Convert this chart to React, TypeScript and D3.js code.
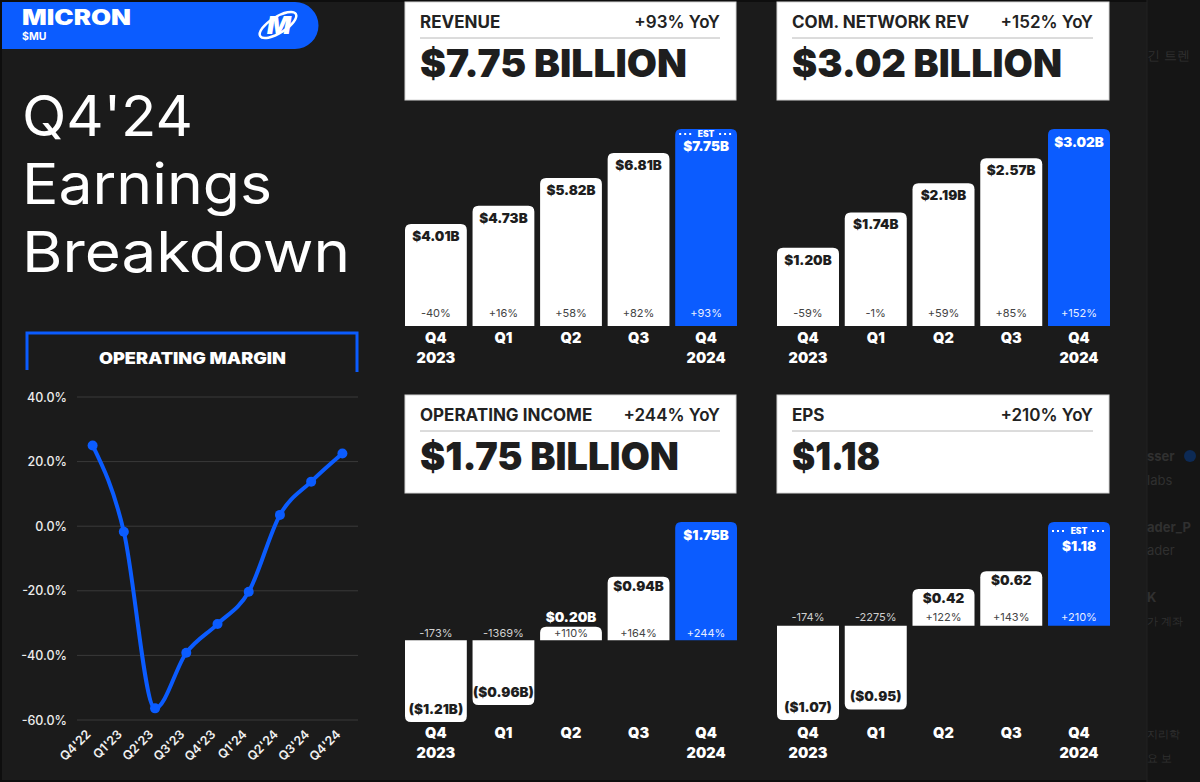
import React from 'react';
import * as d3 from 'd3';

// ---------- DATA ----------
const quarterLabels = ['Q4', 'Q1', 'Q2', 'Q3', 'Q4'];
const yearLabels = ['2023', '', '', '', '2024'];

const revenueValues = [4.01, 4.73, 5.82, 6.81, 7.75];
const revenueLabels = ['$4.01B', '$4.73B', '$5.82B', '$6.81B', '$7.75B'];
const revenueYoY = ['-40%', '+16%', '+58%', '+82%', '+93%'];

const networkValues = [1.2, 1.74, 2.19, 2.57, 3.02];
const networkLabels = ['$1.20B', '$1.74B', '$2.19B', '$2.57B', '$3.02B'];
const networkYoY = ['-59%', '-1%', '+59%', '+85%', '+152%'];

const opIncomeValues = [-1.21, -0.96, 0.2, 0.94, 1.75];
const opIncomeLabels = ['($1.21B)', '($0.96B)', '$0.20B', '$0.94B', '$1.75B'];
const opIncomeYoY = ['-173%', '-1369%', '+110%', '+164%', '+244%'];

const epsValues = [-1.07, -0.95, 0.42, 0.62, 1.18];
const epsLabels = ['($1.07)', '($0.95)', '$0.42', '$0.62', '$1.18'];
const epsYoY = ['-174%', '-2275%', '+122%', '+143%', '+210%'];

const marginQuarters = ["Q4'22", "Q1'23", "Q2'23", "Q3'23", "Q4'23", "Q1'24", "Q2'24", "Q3'24", "Q4'24"];
const marginValues = [25.0, -1.7, -56.4, -39.2, -30.3, -20.3, 3.5, 13.8, 22.5];
const marginTicks = [40, 20, 0, -20, -40, -60];

// ---------- STYLE ----------
const BLUE = '#0b5cff';
const BG = '#1b1b1b';
const FONT = "Inter, 'DejaVu Sans', sans-serif";

type Panel = {
  title: string; yoy: string; headline: string; headlineW: number;
  values: number[]; labels: string[]; pct: string[]; est: boolean;
  x0: number; x1: number; boxY: number; domain: [number, number]; range: [number, number];
  catY: number; pctOff: number; valOff: number; estOff: number; estValOff: number;
};

const panels: Panel[] = [
  { title: 'REVENUE', yoy: '+93% YoY', headline: '$7.75 BILLION', headlineW: 267,
    values: revenueValues, labels: revenueLabels, pct: revenueYoY, est: true,
    x0: 405, x1: 737, boxY: 2, domain: [0, 7.75], range: [326, 129],
    catY: 343, pctOff: 9, valOff: 17, estOff: 8, estValOff: 22 },
  { title: 'COM. NETWORK REV', yoy: '+152% YoY', headline: '$3.02 BILLION', headlineW: 270,
    values: networkValues, labels: networkLabels, pct: networkYoY, est: false,
    x0: 777, x1: 1110, boxY: 2, domain: [0, 3.02], range: [326, 129],
    catY: 343, pctOff: 9, valOff: 17, estOff: 8, estValOff: 22 },
  { title: 'OPERATING INCOME', yoy: '+244% YoY', headline: '$1.75 BILLION', headlineW: 259,
    values: opIncomeValues, labels: opIncomeLabels, pct: opIncomeYoY, est: false,
    x0: 405, x1: 737, boxY: 395, domain: [-1.21, 1.75], range: [722, 522],
    catY: 738, pctOff: 3, valOff: 14, estOff: 8, estValOff: 22 },
  { title: 'EPS', yoy: '+210% YoY', headline: '$1.18', headlineW: 88,
    values: epsValues, labels: epsLabels, pct: epsYoY, est: true,
    x0: 777, x1: 1110, boxY: 395, domain: [-1.07, 1.18], range: [720, 522],
    catY: 738, pctOff: 5, valOff: 14, estOff: 12, estValOff: 29 },
];

function barPath(x: number, w: number, y0: number, y1: number, rr: number) {
  const h = Math.abs(y1 - y0);
  const r = Math.min(rr, h, w / 2);
  const s = y1 < y0 ? 1 : -1;
  return `M${x},${y0} L${x},${y1 + s * r} Q${x},${y1} ${x + r},${y1} L${x + w - r},${y1} Q${x + w},${y1} ${x + w},${y1 + s * r} L${x + w},${y0} Z`;
}

function BarPanel({ p }: { p: Panel }) {
  const idx = p.values.map((_, i) => String(i));
  const xs = d3.scaleBand<string>().domain(idx).range([p.x0, p.x1]).paddingInner(0.085).paddingOuter(0);
  const ys = d3.scaleLinear().domain(p.domain).range(p.range);
  const zero = ys(0);
  const bw = xs.bandwidth();
  const last = p.values.length - 1;
  const boxX = p.x0;
  const boxW = p.x1 - p.x0 - 1;
  return (
    <g>
      <rect x={boxX} y={p.boxY} width={boxW} height={98} fill="#fff" stroke="#d6d6d6" strokeWidth={1} />
      <text x={boxX + 15} y={p.boxY + 26} fontFamily={FONT} fontWeight={700} fontSize={17} fill="#222">{p.title}</text>
      <text x={boxX + boxW - 16} y={p.boxY + 26} textAnchor="end" fontFamily={FONT} fontWeight={600} fontSize={17} fill="#222">{p.yoy}</text>
      <line x1={boxX + 15} x2={boxX + boxW - 16} y1={p.boxY + 36} y2={p.boxY + 36} stroke="#b8b8b8" strokeWidth={1} />
      <text x={boxX + 15} y={p.boxY + 75} fontFamily={FONT} fontWeight={900} fontSize={38} fill="#1e1e1e"
        textLength={p.headlineW} lengthAdjust="spacingAndGlyphs">{p.headline}</text>
      {p.values.map((v, i) => {
        const x = xs(String(i))!;
        const cx = x + bw / 2;
        const y1 = ys(v);
        const isBlue = i === last;
        const pos = v >= 0;
        const h = Math.abs(y1 - zero);
        const fill = isBlue ? BLUE : '#ffffff';
        const inkInside = isBlue ? '#ffffff' : '#1e1e1e';
        const els: React.ReactNode[] = [];
        els.push(<path key="b" d={barPath(x, bw, zero, y1, 6)} fill={fill} />);
        els.push(
          <text key="p" x={cx} y={zero - p.pctOff} textAnchor="middle" fontFamily={FONT} fontWeight={400} fontSize={11}
            fill={pos ? (isBlue ? '#e8eeff' : '#444') : '#d0d0d0'}>{p.pct[i]}</text>
        );
        if (pos) {
          if (isBlue) {
            if (p.est) {
              const ey = y1 + p.estOff;
              els.push(
                <g key="e">
                  <line x1={x + 4} x2={cx - 13} y1={ey - 3} y2={ey - 3} stroke="#fff" strokeWidth={2} strokeDasharray="2 3" />
                  <line x1={cx + 13} x2={x + bw - 3} y1={ey - 3} y2={ey - 3} stroke="#fff" strokeWidth={2} strokeDasharray="2 3" />
                  <text x={cx} y={ey} textAnchor="middle" fontFamily={FONT} fontWeight={900} fontSize={8.5} fill="#fff">EST</text>
                </g>
              );
            }
            els.push(
              <text key="v" x={cx} y={y1 + (p.est ? p.estValOff : 18)} textAnchor="middle" fontFamily={FONT} fontWeight={900}
                fontSize={13.5} fill="#fff">{p.labels[i]}</text>
            );
          } else if (h < 25) {
            els.push(
              <text key="v" x={cx} y={y1 - 5} textAnchor="middle" fontFamily={FONT} fontWeight={900} fontSize={13.5} fill="#fff">{p.labels[i]}</text>
            );
          } else {
            els.push(
              <text key="v" x={cx} y={y1 + p.valOff} textAnchor="middle" fontFamily={FONT} fontWeight={900} fontSize={13.5} fill={inkInside}>{p.labels[i]}</text>
            );
          }
        } else {
          els.push(
            <text key="v" x={cx} y={y1 - 8} textAnchor="middle" fontFamily={FONT} fontWeight={900} fontSize={13.5} fill="#1e1e1e">{p.labels[i]}</text>
          );
        }
        els.push(
          <text key="q" x={cx} y={p.catY} textAnchor="middle" fontFamily={FONT} fontWeight={900} fontSize={14.5} fill="#fff">{quarterLabels[i]}</text>
        );
        if (yearLabels[i]) {
          els.push(
            <text key="yr" x={cx} y={p.catY + 20} textAnchor="middle" fontFamily={FONT} fontWeight={900} fontSize={14.5} fill="#fff">{yearLabels[i]}</text>
          );
        }
        return <g key={i}>{els}</g>;
      })}
    </g>
  );
}

function MarginChart() {
  const x = d3.scalePoint<string>().domain(marginQuarters).range([77, 358]).padding(0.5);
  const y = d3.scaleLinear().domain([-60, 40]).range([720, 397]);
  const line = d3.line<number>()
    .x((_, i) => x(marginQuarters[i])!)
    .y((d) => y(d))
    .curve(d3.curveMonotoneX);
  return (
    <g>
      <path d="M27,370 L27,333 L357,333 L357,372" fill="none" stroke={BLUE} strokeWidth={3} />
      <text x={192.5} y={364} textAnchor="middle" fontFamily={FONT} fontWeight={900} fontSize={16} fill="#fff"
        textLength={187} lengthAdjust="spacingAndGlyphs">OPERATING MARGIN</text>
      {marginTicks.map((t) => (
        <g key={t}>
          <line x1={77} x2={358} y1={y(t)} y2={y(t)} stroke="#3a3a3a" strokeWidth={1} />
          <text x={67} y={y(t) + 4.5} textAnchor="end" fontFamily={FONT} fontWeight={500} fontSize={12.5} fill="#ececec">
            {t.toFixed(1)}%
          </text>
        </g>
      ))}
      <path d={line(marginValues) || ''} fill="none" stroke={BLUE} strokeWidth={4} strokeLinejoin="round" />
      {marginValues.map((v, i) => (
        <circle key={i} cx={x(marginQuarters[i])!} cy={y(v)} r={5} fill={BLUE} />
      ))}
      {marginQuarters.map((q) => {
        const px = x(q)! - 1;
        const py = 735;
        return (
          <text key={q} x={px} y={py} textAnchor="end" transform={`rotate(-45 ${px} ${py})`}
            fontFamily={FONT} fontWeight={600} fontSize={12.5} fill="#f0f0f0">{q}</text>
        );
      })}
    </g>
  );
}

function Header() {
  return (
    <g>
      <path d="M2,2 L295,2 A23.5,23.5 0 0 1 295,49 L2,49 Z" fill={BLUE} />
      <text x={22} y={25} fontFamily={FONT} fontWeight={900} fontSize={21} fill="#fff" textLength={109}
        lengthAdjust="spacingAndGlyphs">MICRON</text>
      <text x={22} y={39.5} fontFamily={FONT} fontWeight={700} fontSize={10.5} fill="#fff">$MU</text>
      <g transform="translate(278,25)">
        <ellipse cx={0} cy={0} rx={21} ry={8} transform="rotate(-32)" fill="none" stroke="#fff" strokeWidth={2.5} />
        <text x={1} y={9} textAnchor="middle" fontFamily={FONT} fontWeight={900} fontStyle="italic" fontSize={25} fill="#fff">M</text>
      </g>
      <text x={22} y={136} fontFamily={FONT} fontWeight={400} fontSize={56} fill="#fff" textLength={171}
        lengthAdjust="spacingAndGlyphs">Q4'24</text>
      <text x={22} y={204} fontFamily={FONT} fontWeight={400} fontSize={56} fill="#fff" textLength={250}
        lengthAdjust="spacingAndGlyphs">Earnings</text>
      <text x={22} y={272} fontFamily={FONT} fontWeight={400} fontSize={56} fill="#fff" textLength={328}
        lengthAdjust="spacingAndGlyphs">Breakdown</text>
    </g>
  );
}

function SideStrip() {
  const c = '#303030';
  return (
    <g>
      <rect x={1147} y={0} width={53} height={782} fill="#151515" />
      <line x1={1147} x2={1147} y1={0} y2={782} stroke="#222" strokeWidth={1} />
      <g fontFamily={FONT} fontSize={13} fill={c}>
        <text x={1147} y={60}>긴 트렌</text>
        <text x={1147} y={461} fontWeight={700}>sser</text>
        <circle cx={1190} cy={456} r={6} fill="#0d2a55" />
        <text x={1147} y={485}>labs</text>
        <text x={1147} y={532} fontWeight={700}>ader_P</text>
        <text x={1147} y={555}>ader</text>
        <text x={1147} y={602} fontWeight={700}>K</text>
        <text x={1147} y={625} fontSize={11}>가 계좌</text>
        <text x={1147} y={738} fontSize={11}>지리학</text>
        <text x={1147} y={762} fontSize={11}>요 보</text>
      </g>
    </g>
  );
}

export default function App() {
  return (
    <svg width={1200} height={782} viewBox="0 0 1200 782"
      style={{ position: 'absolute', left: 0, top: 0, display: 'block' }}>
      <rect x={0} y={0} width={1200} height={782} fill="#0e0e0e" />
      <rect x={2} y={2} width={1145} height={778} fill={BG} />
      <SideStrip />
      <Header />
      <MarginChart />
      {panels.map((p) => <BarPanel key={p.title} p={p} />)}
    </svg>
  );
}
